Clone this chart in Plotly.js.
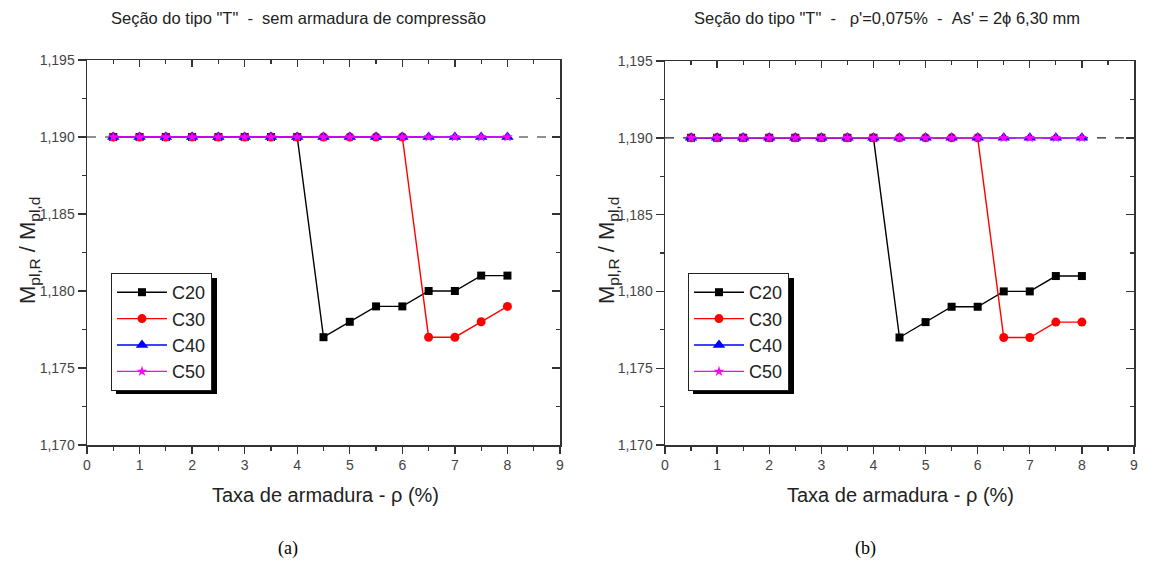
<!DOCTYPE html>
<html>
<head>
<meta charset="utf-8">
<script src="https://cdn.plot.ly/plotly-3.0.1.min.js"></script>
<style>html,body{margin:0;padding:0;background:#fff;}#chart{width:1153px;height:568px;}</style>
</head>
<body>
<div id="chart"></div>
<script>
// ---- data ----
const taxa = [0.5, 1, 1.5, 2, 2.5, 3, 3.5, 4, 4.5, 5, 5.5, 6, 6.5, 7, 7.5, 8];
const seriesNames = ["C20", "C30", "C40", "C50"];
const a_C20 = [1.190,1.190,1.190,1.190,1.190,1.190,1.190,1.190,1.177,1.178,1.179,1.179,1.180,1.180,1.181,1.181];
const a_C30 = [1.190,1.190,1.190,1.190,1.190,1.190,1.190,1.190,1.190,1.190,1.190,1.190,1.177,1.177,1.178,1.179];
const a_C40 = [1.190,1.190,1.190,1.190,1.190,1.190,1.190,1.190,1.190,1.190,1.190,1.190,1.190,1.190,1.190,1.190];
const a_C50 = [1.190,1.190,1.190,1.190,1.190,1.190,1.190,1.190,1.190,1.190,1.190,1.190,1.190,1.190,1.190,1.190];
const b_C20 = [1.190,1.190,1.190,1.190,1.190,1.190,1.190,1.190,1.177,1.178,1.179,1.179,1.180,1.180,1.181,1.181];
const b_C30 = [1.190,1.190,1.190,1.190,1.190,1.190,1.190,1.190,1.190,1.190,1.190,1.190,1.177,1.177,1.178,1.178];
const b_C40 = [1.190,1.190,1.190,1.190,1.190,1.190,1.190,1.190,1.190,1.190,1.190,1.190,1.190,1.190,1.190,1.190];
const b_C50 = [1.190,1.190,1.190,1.190,1.190,1.190,1.190,1.190,1.190,1.190,1.190,1.190,1.190,1.190,1.190,1.190];
const refLine = [1.190];
const xRange = [0, 9];
const yRange = [1.170, 1.195];
const titleA = 'Seção do tipo "T"  -  sem armadura de compressão';
const titleB = 'Seção do tipo "T"  -   ρ\'=0,075%  -  As\' = 2ϕ 6,30 mm';
const xTitle = 'Taxa de armadura - ρ (%)';
const yTitle = 'M<sub>pl,R</sub> / M<sub>pl,d</sub>';
const captions = ['(a)', '(b)'];

// ---- styles ----
const colors = ['#000000', '#ff0000', '#0000ff', '#ff00ff'];
const symbols = ['square', 'circle', 'triangle-up', 'star'];
const sizes = [8, 9, 11, 8];
const FONT = 'Liberation Sans, Arial, sans-serif';
const AX = '#333333';

function mk(xv, yv, i, xa, ya, leg, show) {
  return {
    x: xv, y: yv, type: 'scatter', mode: 'lines+markers', name: seriesNames[i],
    xaxis: xa, yaxis: ya, legend: leg, showlegend: show,
    line: {color: colors[i], width: 1.4},
    marker: {symbol: symbols[i], size: sizes[i], color: colors[i], line: {width: 0}},
    hoverinfo: 'skip'
  };
}
const dA = [a_C20, a_C30, a_C40, a_C50];
const dB = [b_C20, b_C30, b_C40, b_C50];
const traces = [];
dA.forEach((d, i) => traces.push(mk(taxa, d, i, 'x', 'y', 'legend', true)));
dB.forEach((d, i) => traces.push(mk(taxa, d, i, 'x2', 'y2', 'legend2', true)));
traces.push({x: [null], y: [null], xaxis: 'x3', yaxis: 'y3', showlegend: false, hoverinfo: 'skip', type: 'scatter'});
traces.push({x: [null], y: [null], xaxis: 'x4', yaxis: 'y4', showlegend: false, hoverinfo: 'skip', type: 'scatter'});

const tickFont = {family: FONT, size: 14, color: '#444'};
function xax(dom, anchor, extra) {
  return Object.assign({
    domain: dom, anchor: anchor, range: xRange, dtick: 1, tick0: 0,
    ticks: 'outside', ticklen: 7, tickwidth: 1.4, tickcolor: AX,
    minor: {dtick: 0.5, tick0: 0, ticks: 'outside', ticklen: 4, tickwidth: 1.2, tickcolor: AX, showgrid: false},
    showline: true, linecolor: AX, linewidth: 1.5, showgrid: false, zeroline: false,
    tickfont: tickFont, fixedrange: true
  }, extra || {});
}
function yax(dom, anchor, extra) {
  return Object.assign({
    domain: dom, anchor: anchor, range: yRange, dtick: 0.005, tick0: 1.17, tickformat: '.3f',
    ticks: 'outside', ticklen: 8, tickwidth: 1.4, tickcolor: AX,
    minor: {dtick: 0.0025, tick0: 1.17, ticks: 'outside', ticklen: 4, tickwidth: 1.2, tickcolor: AX, showgrid: false},
    showline: true, linecolor: AX, linewidth: 1.5, showgrid: false, zeroline: false,
    tickfont: tickFont, fixedrange: true
  }, extra || {});
}
const W = 1153, H = 568;
const px = v => v / W, py = v => 1 - v / H;
const domXA = [px(87), px(560)], domXB = [px(665), px(1134)];
const domYA = [py(445), py(60)], domYB = [py(445), py(61)];
const inMinor = {ticks: 'inside', ticklen: 4, tickwidth: 1.2, tickcolor: AX, showgrid: false};

const legFont = {family: FONT, size: 18, color: '#222'};
const layout = {
  width: W, height: H, margin: {l: 0, r: 0, t: 0, b: 0},
  paper_bgcolor: '#fff', plot_bgcolor: '#fff', separators: ',.',
  font: {family: FONT, color: '#222'},
  xaxis: xax(domXA, 'y'),
  yaxis: yax(domYA, 'x'),
  xaxis2: xax(domXB, 'y2'),
  yaxis2: yax(domYB, 'x2'),
  xaxis3: xax(domXA, 'y3', {overlaying: 'x', side: 'top', ticks: 'inside', showticklabels: false, minor: Object.assign({dtick: 0.5, tick0: 0}, inMinor)}),
  yaxis3: yax(domYA, 'x3', {overlaying: 'y', side: 'right', ticks: 'inside', showticklabels: false, minor: Object.assign({dtick: 0.0025, tick0: 1.17}, inMinor)}),
  xaxis4: xax(domXB, 'y4', {overlaying: 'x2', side: 'top', ticks: 'inside', showticklabels: false, minor: Object.assign({dtick: 0.5, tick0: 0}, inMinor)}),
  yaxis4: yax(domYB, 'x4', {overlaying: 'y2', side: 'right', ticks: 'inside', showticklabels: false, minor: Object.assign({dtick: 0.0025, tick0: 1.17}, inMinor)}),
  legend: {x: px(111), y: py(273), xanchor: 'left', yanchor: 'top', bgcolor: '#fff', bordercolor: '#222', borderwidth: 1,
    font: legFont, tracegroupgap: 0, itemwidth: 50},
  legend2: {x: px(688), y: py(273), xanchor: 'left', yanchor: 'top', bgcolor: '#fff', bordercolor: '#222', borderwidth: 1,
    font: legFont, tracegroupgap: 0, itemwidth: 50},
  shapes: [
    {type: 'line', xref: 'x domain', yref: 'y', x0: 0, x1: 1, y0: refLine[0], y1: refLine[0], line: {color: '#222', width: 1.2, dash: 'dash'}, layer: 'below'},
    {type: 'line', xref: 'x2 domain', yref: 'y2', x0: 0, x1: 1, y0: refLine[0], y1: refLine[0], line: {color: '#222', width: 1.2, dash: 'dash'}, layer: 'below'},
    {type: 'rect', xref: 'paper', yref: 'paper', x0: px(116), x1: px(217), y0: py(278), y1: py(394), fillcolor: '#000', line: {width: 0}},
    {type: 'rect', xref: 'paper', yref: 'paper', x0: px(693), x1: px(794), y0: py(278), y1: py(394), fillcolor: '#000', line: {width: 0}}
  ],
  annotations: [
    {text: titleA, xref: 'paper', yref: 'paper', x: px(299), y: py(18), xanchor: 'center', yanchor: 'middle', showarrow: false, font: {family: FONT, size: 16.5, color: '#222'}},
    {text: titleB, xref: 'paper', yref: 'paper', x: px(887), y: py(18), xanchor: 'center', yanchor: 'middle', showarrow: false, font: {family: FONT, size: 16.5, color: '#222'}},
    {text: xTitle, xref: 'paper', yref: 'paper', x: px(325), y: py(495), xanchor: 'center', yanchor: 'middle', showarrow: false, font: {family: FONT, size: 20, color: '#222'}},
    {text: xTitle, xref: 'paper', yref: 'paper', x: px(900), y: py(495), xanchor: 'center', yanchor: 'middle', showarrow: false, font: {family: FONT, size: 20, color: '#222'}},
    {text: yTitle, xref: 'paper', yref: 'paper', x: px(29), y: py(251), xanchor: 'center', yanchor: 'middle', textangle: -90, showarrow: false, font: {family: FONT, size: 22, color: '#222'}},
    {text: yTitle, xref: 'paper', yref: 'paper', x: px(608), y: py(251), xanchor: 'center', yanchor: 'middle', textangle: -90, showarrow: false, font: {family: FONT, size: 22, color: '#222'}},
    {text: captions[0], xref: 'paper', yref: 'paper', x: px(288), y: py(548), xanchor: 'center', yanchor: 'middle', showarrow: false, font: {family: 'Liberation Serif, Times New Roman, serif', size: 18, color: '#000'}},
    {text: captions[1], xref: 'paper', yref: 'paper', x: px(865), y: py(548), xanchor: 'center', yanchor: 'middle', showarrow: false, font: {family: 'Liberation Serif, Times New Roman, serif', size: 18, color: '#000'}}
  ]
};
Plotly.newPlot('chart', traces, layout, {staticPlot: true, displayModeBar: false});
</script>
</body>
</html>
